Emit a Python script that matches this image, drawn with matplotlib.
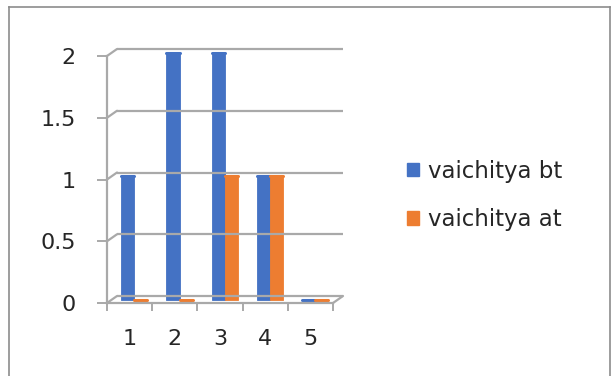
import matplotlib.pyplot as plt
import matplotlib.transforms as mtransforms
from matplotlib.patches import ConnectionPatch, Patch
from matplotlib.lines import Line2D

plt.rcParams['font.family'] = ['DejaVu Sans']

categories = [1, 2, 3, 4, 5]
vaichitya_bt = [1, 2, 2, 1, 0]
vaichitya_at = [0, 0, 1, 1, 0]
y_ticks = [0, 0.5, 1, 1.5, 2]
y_labels = ['0', '0.5', '1', '1.5', '2']

blue = '#4472C4'
orange = '#ED7D31'
grid_col = '#A9A9A9'
text_col = '#262626'

W, H = 614, 376
fig = plt.figure(figsize=(W / 100, H / 100), dpi=100)

# outer chart frame (bottom edge runs off the picture)
frame_kw = dict(transform=fig.transFigure, color='#8C8C8C', lw=1.2)
fig.add_artist(Line2D([9 / W, 9 / W], [0, 1 - 7 / H], **frame_kw))
fig.add_artist(Line2D([9 / W, 610 / W], [1 - 7 / H, 1 - 7 / H], **frame_kw))
fig.add_artist(Line2D([610 / W, 610 / W], [0, 1 - 7 / H], **frame_kw))

ax = fig.add_axes([107 / W, 1 - 303 / H, 226 / W, 247 / H])
ax.set_xlim(0.5, 5.5)
ax.set_ylim(0, 2)
ax.patch.set_visible(False)

# depth offsets for the pseudo-3D walls and bars
back = ax.transData + mtransforms.ScaledTranslation(10 / 100, 7 / 100, fig.dpi_scale_trans)
mid = ax.transData + mtransforms.ScaledTranslation(5 / 100, 3.5 / 100, fig.dpi_scale_trans)

# back wall gridlines and side-wall diagonals
for y in y_ticks:
    ax.plot([0.5, 5.5], [y, y], color=grid_col, lw=1.6, transform=back,
            clip_on=False, solid_capstyle='butt')
    ax.add_artist(ConnectionPatch(xyA=(0.5, y), coordsA=ax.transData,
                                  xyB=(0.5, y), coordsB=back,
                                  color=grid_col, lw=1.6))
# right edge of the floor
ax.add_artist(ConnectionPatch(xyA=(5.5, 0), coordsA=ax.transData,
                              xyB=(5.5, 0), coordsB=back,
                              color=grid_col, lw=1.6))

# bars
w = 0.29
for vals, col, shift in [(vaichitya_bt, blue, -0.15), (vaichitya_at, orange, 0.14)]:
    xs = [c + shift for c in categories]
    bars = ax.bar(xs, vals, width=w, color=col, edgecolor=col, lw=0.6)
    for b in bars:
        b.set_transform(mid)
        b.set_clip_on(False)
    # flat top face, visible even on zero-height bars
    for x, v in zip(xs, vals):
        ax.plot([x - w / 2, x + w / 2], [v, v], color=col, lw=2.2,
                transform=mid, clip_on=False, solid_capstyle='round')

# front axes
for side in ['top', 'right']:
    ax.spines[side].set_visible(False)
for side in ['left', 'bottom']:
    ax.spines[side].set_color(grid_col)
    ax.spines[side].set_linewidth(1.6)

ax.set_yticks(y_ticks)
ax.set_yticklabels(y_labels)
ax.tick_params(axis='y', length=7.5, width=1.4, color=grid_col, pad=15,
               labelsize=16, labelcolor=text_col)
ax.set_xticks(categories)
ax.set_xticklabels([str(c) for c in categories])
ax.set_xticks([c + 0.5 for c in [0] + categories], minor=True)
ax.tick_params(axis='x', which='major', length=0, pad=19,
               labelsize=16, labelcolor=text_col)
ax.tick_params(axis='x', which='minor', length=6, width=1.4, color=grid_col)

handles = [Patch(color=blue, label='vaichitya bt'),
           Patch(color=orange, label='vaichitya at')]
fig.legend(handles=handles, loc='upper left',
           bbox_to_anchor=(386 / W, 1 - 139 / H), frameon=False,
           fontsize=16.5, labelcolor=text_col, handlelength=0.55,
           handleheight=0.55, handletextpad=0.4, labelspacing=1.1)

fig.savefig('out.png', dpi=100, facecolor='white')
